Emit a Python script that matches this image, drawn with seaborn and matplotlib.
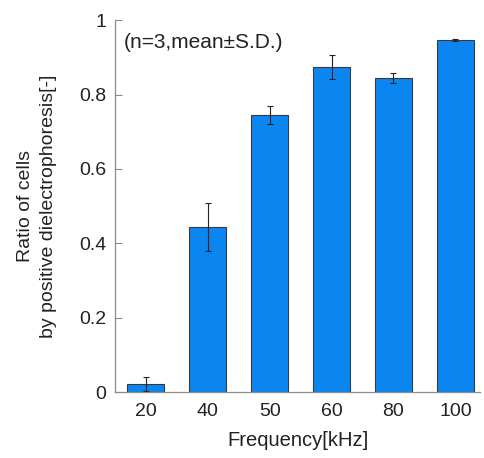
import matplotlib
matplotlib.use("Agg")
import numpy as np
import pandas as pd
import seaborn as sns
import matplotlib.pyplot as plt
from matplotlib.ticker import FixedLocator

# data
frequencies = ["20", "40", "50", "60", "80", "100"]
ratio_mean = [0.022, 0.444, 0.746, 0.874, 0.844, 0.946]
ratio_sd = [0.018, 0.065, 0.024, 0.033, 0.013, 0.003]
y_ticks = [0, 0.2, 0.4, 0.6, 0.8, 1.0]
y_tick_labels = ["0", "0.2", "0.4", "0.6", "0.8", "1"]

BAR_COLOR = "#0B86F0"
SPINE_COLOR = "#8a8a8a"
TEXT_COLOR = "#222222"


def main():
    sns.set_style("white")
    plt.rcParams["font.family"] = ["Liberation Sans", "DejaVu Sans"]

    df = pd.DataFrame({"frequency": frequencies, "ratio": ratio_mean, "sd": ratio_sd})

    fig = plt.figure(figsize=(4.85, 4.58), dpi=100)
    ax = fig.add_axes([0.237, 0.144, 0.753, 0.812])

    sns.barplot(data=df, x="frequency", y="ratio", order=frequencies,
                color=BAR_COLOR, saturation=1, width=0.6,
                edgecolor="#3a3a3a", linewidth=0.8, errorbar=None, ax=ax)
    ax.errorbar(np.arange(len(frequencies)), df["ratio"], yerr=df["sd"],
                fmt="none", ecolor=TEXT_COLOR, elinewidth=0.8, capsize=2.5,
                capthick=0.8)

    ax.set_xlim(-0.5, 5.4)
    ax.set_ylim(0, 1)
    ax.set_yticks(y_ticks)
    ax.set_yticklabels(y_tick_labels)
    ax.xaxis.set_minor_locator(FixedLocator(np.arange(0.5, len(frequencies) - 0.5, 1)))
    ax.tick_params(axis="x", which="major", length=0, pad=8, labelsize=14, labelcolor=TEXT_COLOR)
    ax.tick_params(axis="x", which="minor", direction="in", length=5, width=0.8, color=SPINE_COLOR)
    ax.tick_params(axis="y", direction="in", length=5, width=0.8, color=SPINE_COLOR,
                   left=True, pad=6, labelsize=14, labelcolor=TEXT_COLOR)

    sns.despine(ax=ax)
    for side in ("left", "bottom"):
        ax.spines[side].set_color(SPINE_COLOR)
        ax.spines[side].set_linewidth(0.9)

    ax.set_xlabel("Frequency[kHz]", fontsize=14.5, color=TEXT_COLOR)
    ax.xaxis.set_label_coords(0.5, -0.105)
    ax.set_ylabel("Ratio of cells\nby positive dielectrophoresis[-]", fontsize=14,
                  color=TEXT_COLOR, linespacing=1.45)
    ax.yaxis.set_label_coords(-0.16, 0.5)
    ax.text(0.025, 0.94, "(n=3,mean\u00b1S.D.)", transform=ax.transAxes,
            fontsize=15, color=TEXT_COLOR, va="center")

    fig.savefig("out.png", dpi=100)
    plt.close(fig)


if __name__ == "__main__":
    main()
